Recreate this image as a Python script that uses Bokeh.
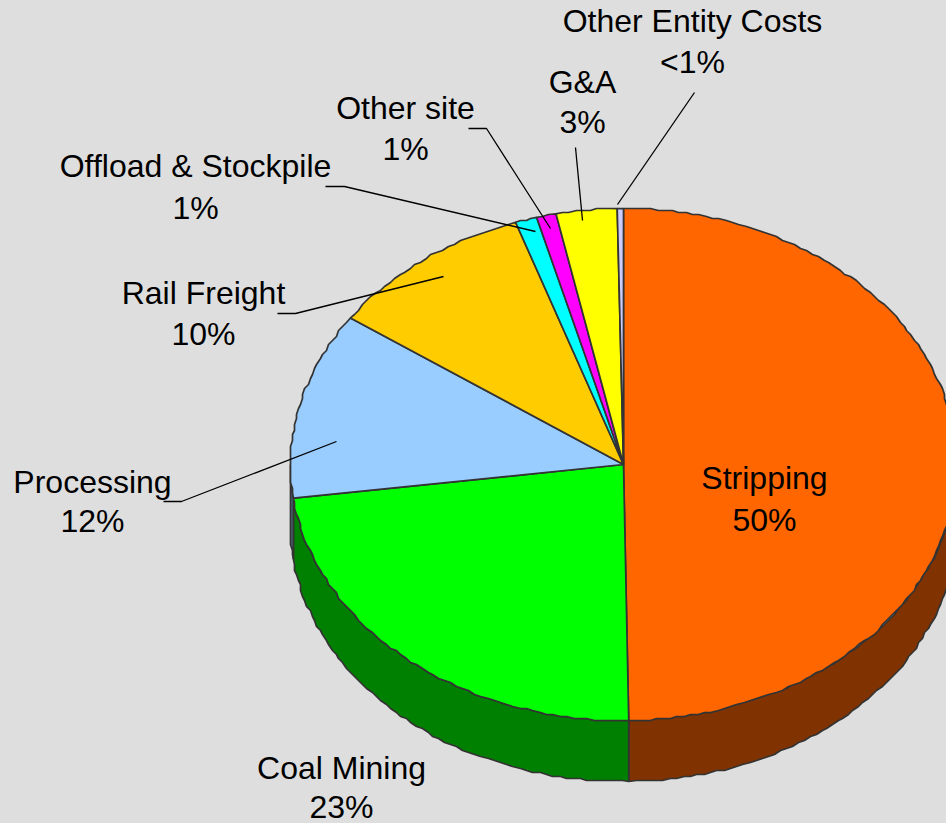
import numpy as np
from bokeh.plotting import figure
from bokeh.models import GlobalInlineStyleSheet
from bokeh.core.properties import value
from bokeh.embed import file_html
from bokeh.resources import INLINE

# data
categories = ["Stripping", "Coal Mining", "Processing", "Rail Freight",
              "Offload & Stockpile", "Other site", "G&A", "Other Entity Costs"]
shares = [49.75, 23.15, 11.8, 10.05, 1.05, 0.95, 2.95, 0.3]
share_labels = ["50%", "23%", "12%", "10%", "1%", "1%", "3%", "<1%"]
top_colors = ["#ff6600", "#00ff00", "#99ccff", "#ffcc00", "#00ffff", "#ff00ff", "#ffff00", "#ccccff"]
side_colors = ["#803300", "#008000", "#4d6680", "#806600", "#008080", "#800080", "#808000", "#666680"]

# layout
W, H = 946, 823
CX, CY, RX, RY, DEPTH = 623.0, 464.0, 333.0, 256.0, 61.0
GRID = 2.0
label_x = [764, 341, 92, 203, 195, 405, 582, 692]
label_y1 = [477, 767, 481, 292, 165, 107, 81, 20]
label_y2 = [519, 806, 520, 333, 207, 148, 121, 61]
leaders = [
    None,
    None,
    ([163, 181, 336], [501, 501, 441]),
    ([277, 295, 443], [313, 313, 276]),
    ([325, 344, 535], [186, 186, 231]),
    ([468, 486, 550], [128, 128, 228]),
    ([575, 582], [147, 220]),
    ([694, 617], [92, 204]),
]


def arc(t0, t1, dy=0.0):
    n = max(2, int(abs(t1 - t0) / 1.2) + 2)
    t = np.radians(np.linspace(t0, t1, n))
    x = CX + RX * np.sin(t)
    y = CY + dy - RY * np.cos(t)
    # the stepped outline of the original rendering
    x[1:-1] = np.round(x[1:-1] / GRID) * GRID
    y[1:-1] = np.round(y[1:-1] / GRID) * GRID
    return x, y


p = figure(width=W, height=H, x_range=(0, W), y_range=(H, 0),
           output_backend="svg", toolbar_location=None,
           background_fill_color="#dedede", border_fill_color="#dedede",
           min_border=0, outline_line_color=None)
p.axis.visible = False
p.grid.visible = False
p.stylesheets = [GlobalInlineStyleSheet(css="html,body{margin:0;padding:0;background:#dedede;overflow:hidden}")]

edges = np.concatenate([[0.0], np.cumsum(shares)]) / float(sum(shares)) * 360.0

# side walls (only the front half of the disc)
sx, sy, sc = [], [], []
for i in range(len(shares)):
    a, b = max(edges[i], 90.0), min(edges[i + 1], 270.0)
    if b > a:
        x0, y0 = arc(a, b)
        x1, y1 = arc(b, a, DEPTH)
        sx.append(np.concatenate([x0, x1]))
        sy.append(np.concatenate([y0, y1]))
        sc.append(side_colors[i])
p.patches(sx, sy, fill_color=sc, line_color="#333333", line_width=1.7)

# top faces
tx, ty = [], []
for i in range(len(shares)):
    x0, y0 = arc(edges[i], edges[i + 1])
    tx.append(np.concatenate([[CX], x0]))
    ty.append(np.concatenate([[CY], y0]))
p.patches(tx, ty, fill_color=top_colors, line_color="#333333", line_width=1.7)

# leaders
for l in leaders:
    if l:
        p.line(l[0], l[1], line_color="#000000", line_width=1.3)

# labels
font = value("Liberation Sans")
p.text(label_x, label_y1, text=categories, text_font=font, text_font_size="32px",
       text_align="center", text_baseline="middle", text_color="#000000")
p.text(label_x, label_y2, text=share_labels, text_font=font, text_font_size="32px",
       text_align="center", text_baseline="middle", text_color="#000000")

open("out.html", "w").write(file_html(p, INLINE))
